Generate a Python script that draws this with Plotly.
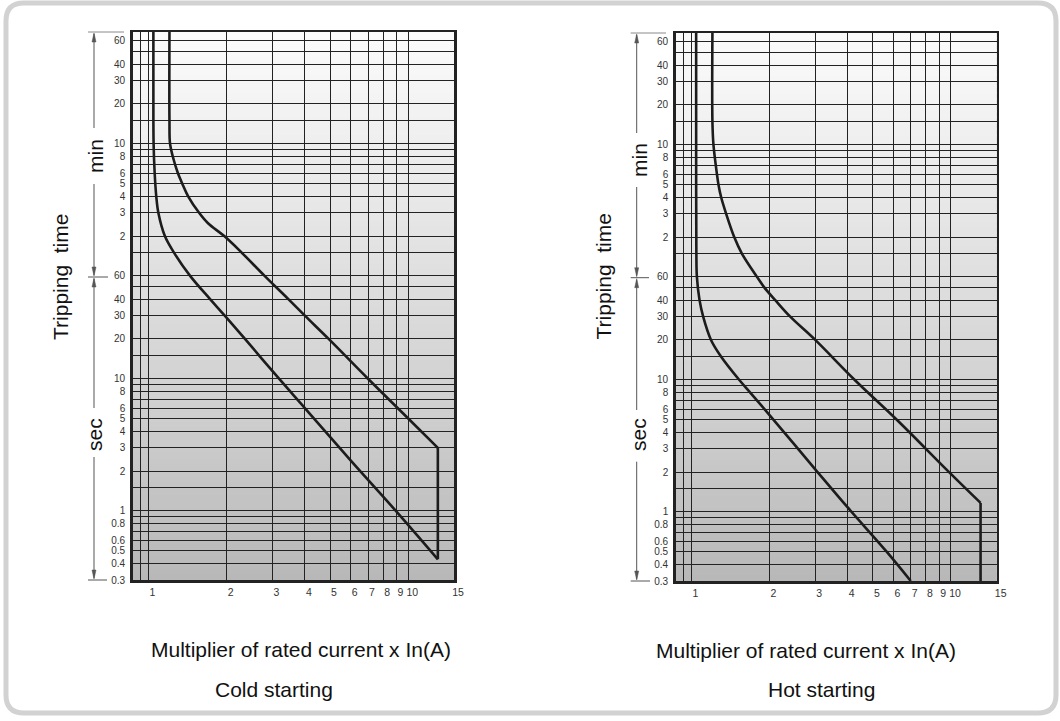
import math
import plotly.graph_objects as go

W, H = 1060, 721

# ---------------- data ----------------
x_tick_vals = [0.935, 1, 2, 3, 4, 5, 6, 7, 8, 9, 10, 15]
x_tick_text = ["", "1", "2", "3", "4", "5", "6", "7", "8", "9", "10", "15"]

# tripping time in seconds
y_tick_vals = [0.3, 0.4, 0.5, 0.6, 0.7, 0.8, 0.9, 1, 1.5, 2, 3, 4, 5, 6, 7, 8, 9, 10,
               15, 20, 30, 40, 50, 60, 90, 120, 180, 240, 300, 360, 420, 480, 540,
               600, 900, 1200, 1800, 2400, 3000, 3600]
y_tick_text = ["0.3", "0.4", "0.5", "0.6", "", "0.8", "", "1", "", "2", "3", "4", "5", "6", "", "8", "", "10",
               "", "20", "30", "40", "", "60", "", "2", "3", "4", "5", "6", "", "8", "",
               "10", "", "20", "30", "40", "", "60"]

# Cold starting
cold_a_x = [1.045, 1.045, 1.047, 1.057, 1.072, 1.092, 1.157, 1.254, 1.447, 1.727, 1.967, 2.353, 3.182, 4, 6, 8.96, 13]
cold_a_t = [4200, 1500, 600, 360, 240, 180, 120, 90, 60, 40, 30, 20, 10, 6, 2.41, 1, 0.43]
cold_b_x = [1.205, 1.205, 1.211, 1.241, 1.298, 1.349, 1.422, 1.567, 1.696, 1.958, 2.285, 2.80, 3.456, 4, 4.94, 7.0, 10, 13]
cold_b_t = [4200, 900, 600, 480, 360, 300, 240, 180, 150, 120, 90, 60, 40, 30, 20, 10, 5, 3]

# Hot starting
hot_a_x = [1.043, 1.043, 1.045, 1.05, 1.075, 1.11, 1.19, 1.30, 1.527, 1.685, 2, 3, 4, 5.65, 7]
hot_a_t = [4200, 300, 90, 60, 40, 30, 20, 15, 10, 8, 5.4, 2.1, 1.08, 0.5, 0.3]
hot_b_x = [1.205, 1.205, 1.216, 1.254, 1.271, 1.302, 1.361, 1.462, 1.565, 1.789, 1.908, 2.104, 2.403, 3, 4.25, 6.17, 9.83, 13]
hot_b_t = [4200, 900, 600, 360, 300, 240, 180, 120, 90, 60, 50, 40, 30, 20, 10, 5, 2, 1.17]
hot_floor_t = 0.3

X_RANGE = [0.87, 15]
Y_RANGE = [0.3, 4200]

FONT = "Liberation Sans, Arial, Helvetica, sans-serif"
LINE = "#1c1c1c"
GRID = "#222222"


def px(x):
    return x / W


def py(y):
    return 1 - y / H


fig = go.Figure()

curve_style = dict(mode="lines", line=dict(color=LINE, width=2.6, shape="spline", smoothing=1.0),
                   hoverinfo="skip", showlegend=False)
edge_style = dict(mode="lines", line=dict(color=LINE, width=2.6), hoverinfo="skip", showlegend=False)

# cold panel
fig.add_trace(go.Scatter(x=cold_a_x, y=cold_a_t, xaxis="x", yaxis="y", **curve_style))
fig.add_trace(go.Scatter(x=cold_b_x, y=cold_b_t, xaxis="x", yaxis="y", **curve_style))
fig.add_trace(go.Scatter(x=[cold_b_x[-1], cold_a_x[-1]], y=[cold_b_t[-1], cold_a_t[-1]],
                         xaxis="x", yaxis="y", **edge_style))
# hot panel
fig.add_trace(go.Scatter(x=hot_a_x, y=hot_a_t, xaxis="x2", yaxis="y2", **curve_style))
fig.add_trace(go.Scatter(x=hot_b_x, y=hot_b_t, xaxis="x2", yaxis="y2", **curve_style))
fig.add_trace(go.Scatter(x=[hot_b_x[-1], hot_b_x[-1]], y=[hot_b_t[-1], hot_floor_t],
                         xaxis="x2", yaxis="y2", **edge_style))


def xaxis(domain, anchor):
    return dict(domain=domain, anchor=anchor, type="log",
                range=[math.log10(X_RANGE[0]), math.log10(X_RANGE[1])],
                tickmode="array", tickvals=x_tick_vals, ticktext=x_tick_text,
                showgrid=True, gridcolor=GRID, gridwidth=1, zeroline=False,
                showline=True, mirror=True, linecolor="#222", linewidth=2.5,
                ticks="", ticklabelshift=4, ticklabelstandoff=1,
                tickfont=dict(family=FONT, size=10.5, color="#333"),
                automargin=False, fixedrange=True)


def yaxis(domain, anchor):
    return dict(domain=domain, anchor=anchor, type="log",
                range=[math.log10(Y_RANGE[0]), math.log10(Y_RANGE[1])],
                tickmode="array", tickvals=y_tick_vals, ticktext=y_tick_text,
                showgrid=True, gridcolor=GRID, gridwidth=1, zeroline=False,
                showline=True, mirror=True, linecolor="#222", linewidth=2.5,
                ticks="", ticklabelstandoff=3,
                tickfont=dict(family=FONT, size=10, color="#333"),
                automargin=False, fixedrange=True)


shapes = []

# gradient background of each plot area
N = 90
for xa, ya in (("x", "y"), ("x2", "y2")):
    for i in range(N):
        f = (i + 0.5) / N  # 0 bottom -> 1 top
        v = int(round(183 + (251 - 183) * f ** 0.9))
        shapes.append(dict(type="rect", xref=f"{xa} domain", yref=f"{ya} domain",
                           x0=0, x1=1, y0=i / N, y1=min(1, (i + 1) / N + 0.004),
                           fillcolor=f"rgb({v},{v},{v})", line=dict(width=0), layer="below"))

# rounded outer frame
L, T, R, B, r = 6, 3, 1056, 713, 18


def P(a, b):
    return f"{px(a):.5f},{py(b):.5f}"


frame_path = (f"M{P(L + r, T)} L{P(R - r, T)} Q{P(R, T)} {P(R, T + r)} L{P(R, B - r)} "
              f"Q{P(R, B)} {P(R - r, B)} L{P(L + r, B)} Q{P(L, B)} {P(L, B - r)} "
              f"L{P(L, T + r)} Q{P(L, T)} {P(L + r, T)} Z")
shapes.append(dict(type="path", xref="paper", yref="paper", path=frame_path,
                   line=dict(color="#d2d2d2", width=5), fillcolor="rgba(0,0,0,0)", layer="below"))

SC = "#555"


def seg(x0, y0, x1, y1, color=SC, w=1):
    shapes.append(dict(type="line", xref="paper", yref="paper", x0=px(x0), y0=py(y0),
                       x1=px(x1), y1=py(y1), line=dict(color=color, width=w)))


def head(xc, tip, direction):
    # direction -1 = pointing up, +1 = pointing down
    base = tip - direction * 9
    path = f"M{P(xc, tip)} L{P(xc - 2, base)} L{P(xc + 2, base)} Z"
    shapes.append(dict(type="path", xref="paper", yref="paper", path=path,
                       fillcolor=SC, line=dict(color=SC, width=0.5)))


def scale(xc, top, mid, bot, gmin, gsec, top_end, mid_end, bot_end):
    seg(xc - 6, top, top_end, top, color="#8a8a8a")
    seg(xc - 6, mid, mid_end, mid)
    seg(xc - 6, bot, bot_end, bot)
    seg(xc, top + 2, xc, gmin[0])
    seg(xc, gmin[1], xc, mid - 2)
    seg(xc, mid + 2, xc, gsec[0])
    seg(xc, gsec[1], xc, bot - 2)
    head(xc, top + 1, -1)
    head(xc, mid - 1, 1)
    head(xc, mid + 1, -1)
    head(xc, bot - 1, 1)


scale(94, 32, 277, 580, (128, 184), (408, 457), 124, 108, 107)
scale(636.7, 33, 277.7, 581, (133, 187), (410, 461.7), 666, 649, 650)

annotations = []


def text(t, x, y, size=21, angle=0):
    annotations.append(dict(text=t, x=px(x), y=py(y), xref="paper", yref="paper",
                            showarrow=False, xanchor="center", yanchor="middle",
                            textangle=angle, font=dict(family=FONT, size=size, color="#111")))


text("Tripping\u00a0 time", 60, 277, angle=-90)
text("min", 95, 156, angle=-90)
text("sec", 95, 435, angle=-90)
text("Multiplier of rated current x In(A)", 301, 649)
text("Cold starting", 273.5, 689)

text("Tripping\u00a0 time", 602.5, 277, angle=-90)
text("min", 639, 160, angle=-90)
text("sec", 639, 435, angle=-90)
text("Multiplier of rated current x In(A)", 805.5, 650)
text("Hot starting", 821, 689)

fig.update_layout(
    width=W, height=H, autosize=False,
    margin=dict(l=0, r=0, t=0, b=0),
    paper_bgcolor="white", plot_bgcolor="rgb(184,184,184)",
    showlegend=False,
    xaxis=xaxis([132.7 / W, 454 / W], "y"),
    yaxis=yaxis([1 - 580 / H, 1 - 32 / H], "x"),
    xaxis2=xaxis([675.7 / W, 996.7 / W], "y2"),
    yaxis2=yaxis([1 - 581 / H, 1 - 33 / H], "x2"),
    shapes=shapes,
    annotations=annotations,
)

fig.write_html("out.html", config={"displayModeBar": False, "staticPlot": True},
               post_script="document.body.style.margin='0';document.body.style.overflow='hidden';")
